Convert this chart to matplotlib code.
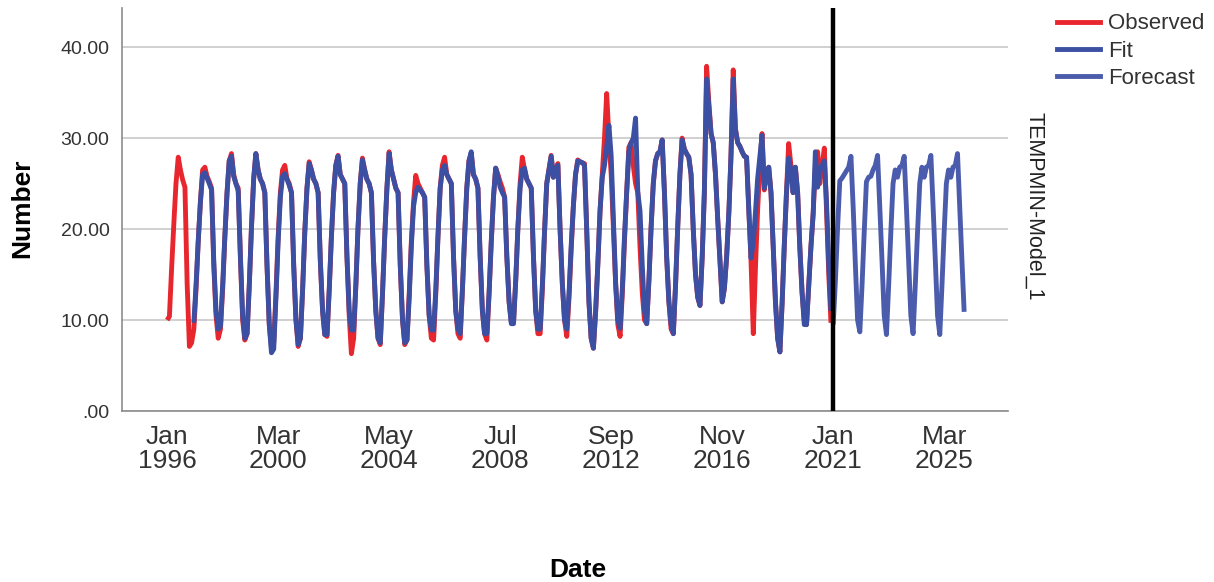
import numpy as np
import pandas as pd
import matplotlib
matplotlib.use("Agg")
import matplotlib.pyplot as plt
from matplotlib.lines import Line2D

plt.rcParams['font.family'] = ['Liberation Sans', 'DejaVu Sans']

# Monthly TEMPMIN values, one row per year (Jan..Dec)
observed = [
    10.0, 10.4, 15.5, 20.5, 25.0, 27.9, 26.5, 25.4, 24.6, 14.0, 7.1, 7.5,    # 1996
    9.0, 13.5, 18.5, 23.0, 26.5, 26.8, 25.8, 25.2, 24.5, 16.0, 10.5, 8.0,    # 1997
    9.0, 13.5, 19.0, 24.0, 27.5, 28.3, 26.0, 25.0, 24.5, 17.0, 10.0, 7.8,    # 1998
    8.5, 14.0, 20.0, 25.5, 28.3, 26.5, 25.5, 25.0, 24.0, 16.0, 9.5, 7.0,     # 1999
    7.5, 13.0, 19.0, 24.0, 26.5, 27.0, 25.5, 25.0, 24.0, 16.0, 10.0, 7.1,    # 2000
    8.0, 13.5, 19.5, 24.5, 27.4, 26.5, 25.5, 25.0, 24.0, 16.5, 11.0, 8.4,    # 2001
    8.2, 13.5, 19.0, 24.0, 27.0, 28.1, 26.0, 25.5, 25.0, 17.0, 10.5, 6.3,    # 2002
    8.0, 14.0, 20.0, 25.0, 27.8, 26.5, 25.5, 25.0, 24.0, 16.5, 11.0, 8.0,    # 2003
    7.3, 13.0, 19.0, 24.5, 28.5, 26.5, 25.5, 24.5, 24.0, 16.0, 10.0, 7.3,    # 2004
    7.8, 13.0, 18.5, 23.0, 25.9, 25.0, 24.5, 24.0, 23.5, 16.0, 10.5, 8.0,    # 2005
    7.8, 13.0, 19.0, 24.5, 27.0, 27.9, 26.0, 25.5, 25.0, 17.0, 11.0, 8.5,    # 2006
    8.0, 13.5, 19.0, 24.5, 27.5, 28.3, 26.0, 25.5, 24.5, 17.0, 11.0, 8.5,    # 2007
    7.8, 13.0, 18.5, 23.5, 26.7, 26.0, 25.2, 24.5, 23.5, 17.0, 12.0, 9.8,    # 2008
    9.8, 14.5, 20.0, 25.0, 27.9, 26.5, 25.5, 25.0, 24.5, 17.0, 11.0, 8.5,    # 2009
    8.5, 13.5, 19.5, 25.0, 26.5, 28.1, 25.7, 26.5, 27.2, 20.0, 14.0, 10.0,   # 2010
    8.2, 12.5, 17.5, 22.5, 26.0, 27.6, 27.4, 27.3, 27.2, 20.0, 12.0, 8.0,    # 2011
    6.9, 11.0, 16.0, 22.0, 26.0, 30.0, 34.9, 30.0, 26.0, 20.0, 14.0, 9.5,    # 2012
    8.2, 13.0, 18.5, 24.0, 29.0, 29.5, 27.0, 25.0, 24.0, 18.0, 13.0, 10.0,   # 2013
    9.6, 14.5, 20.0, 25.0, 27.5, 28.3, 28.5, 29.8, 24.0, 17.0, 12.0, 9.0,    # 2014
    8.5, 14.0, 20.0, 26.0, 30.0, 28.8, 28.3, 27.9, 26.0, 20.0, 15.0, 12.5,   # 2015
    11.6, 17.0, 24.0, 37.9, 34.0, 30.5, 29.5, 26.0, 21.0, 16.5, 12.0, 13.5,  # 2016
    17.0, 22.0, 28.0, 37.5, 31.0, 29.5, 29.1, 28.5, 28.0, 27.9, 22.0, 16.5,  # 2017
    8.5, 16.0, 22.0, 27.0, 30.5, 24.3, 26.0, 26.8, 24.0, 18.0, 12.0, 8.0,    # 2018
    6.5, 12.0, 18.0, 24.0, 29.4, 27.0, 24.0, 26.8, 24.0, 18.0, 13.0, 10.0,   # 2019
    9.5, 14.0, 18.0, 21.7, 27.0, 28.5, 25.0, 27.0, 28.9, 22.0, 15.0, 9.7,    # 2020
]

# Model fit starts one seasonal cycle after the first observation
fit = [
    9.7, 14.0, 18.5, 23.0, 26.0, 26.2, 25.6, 25.0, 24.3, 16.5, 11.0, 9.0,    # 1997
    9.3, 14.0, 19.0, 24.0, 27.5, 28.0, 25.8, 25.0, 24.2, 17.0, 10.5, 8.0,    # 1998
    8.5, 14.0, 20.0, 25.5, 28.3, 26.5, 25.5, 25.0, 24.0, 16.0, 9.5, 6.4,     # 1999
    6.8, 12.5, 18.5, 23.5, 25.8, 26.1, 25.5, 24.8, 24.0, 16.0, 10.0, 7.3,    # 2000
    8.0, 13.5, 19.5, 24.5, 27.2, 26.5, 25.5, 25.0, 24.0, 16.5, 11.0, 8.4,    # 2001
    8.4, 13.5, 19.0, 24.0, 27.0, 28.0, 26.0, 25.5, 25.0, 17.0, 11.0, 8.9,    # 2002
    8.9, 14.0, 20.0, 25.0, 27.6, 26.5, 25.5, 25.0, 24.0, 16.5, 11.0, 8.0,    # 2003
    7.5, 13.0, 19.0, 24.5, 28.3, 26.5, 25.5, 24.5, 24.0, 16.0, 10.0, 7.5,    # 2004
    7.8, 12.5, 18.0, 22.5, 24.0, 24.6, 24.3, 24.0, 23.5, 16.0, 10.5, 8.9,    # 2005
    8.9, 13.5, 19.0, 24.5, 26.5, 27.0, 26.0, 25.5, 25.0, 17.0, 11.0, 9.0,    # 2006
    8.5, 13.5, 19.0, 24.5, 27.5, 28.5, 26.0, 25.5, 24.5, 17.0, 11.0, 8.5,    # 2007
    8.5, 13.0, 18.5, 23.5, 26.7, 25.8, 24.6, 24.0, 23.5, 17.0, 12.0, 9.6,    # 2008
    9.6, 14.5, 20.0, 24.5, 26.5, 26.7, 25.5, 25.0, 24.5, 17.0, 11.0, 9.0,    # 2009
    9.0, 14.0, 19.5, 25.0, 26.5, 28.0, 25.7, 26.5, 27.0, 20.0, 14.0, 10.0,   # 2010
    9.0, 13.0, 18.0, 22.5, 26.0, 27.5, 27.4, 27.3, 27.0, 20.0, 12.0, 8.0,    # 2011
    6.9, 11.0, 16.0, 22.0, 25.7, 27.0, 29.0, 31.4, 28.0, 21.0, 14.0, 10.0,   # 2012
    9.1, 13.5, 19.0, 24.0, 28.5, 29.5, 30.0, 32.2, 24.0, 22.0, 16.0, 11.0,   # 2013
    9.6, 14.5, 20.0, 25.0, 27.5, 28.3, 28.5, 29.8, 24.0, 17.0, 12.0, 9.5,    # 2014
    8.5, 14.0, 20.0, 26.0, 29.8, 28.8, 28.3, 27.9, 26.0, 20.0, 15.0, 12.5,   # 2015
    11.6, 17.0, 24.0, 36.5, 33.5, 30.5, 29.5, 26.0, 21.0, 16.5, 12.0, 13.5,  # 2016
    17.0, 22.0, 28.0, 36.5, 31.0, 29.5, 29.1, 28.5, 28.0, 27.9, 22.0, 16.8,  # 2017
    18.5, 22.0, 25.5, 28.0, 30.3, 24.5, 26.0, 26.8, 24.0, 18.0, 12.0, 8.0,   # 2018
    6.5, 12.0, 18.0, 24.0, 27.8, 26.5, 24.0, 26.8, 24.0, 18.0, 13.0, 9.5,    # 2019
    9.5, 14.0, 18.0, 21.7, 28.5, 24.6, 26.5, 27.0, 27.5, 23.0, 16.0, 11.0,   # 2020
]

forecast = [
    9.5, 14.5, 20.0, 25.3, 25.6, 26.0, 26.4, 26.8, 28.0, 22.5, 16.0, 10.0,   # 2021
    8.7, 14.0, 19.5, 25.2, 25.7, 25.8, 26.5, 27.0, 28.1, 22.5, 16.5, 10.5,   # 2022
    8.4, 14.0, 19.5, 25.0, 26.5, 25.7, 26.8, 27.0, 28.0, 22.5, 16.5, 10.5,   # 2023
    8.5, 14.0, 19.5, 25.0, 26.8, 25.7, 26.8, 27.0, 28.1, 22.5, 16.5, 10.5,   # 2024
    8.4, 14.0, 19.5, 25.0, 26.5, 25.7, 26.8, 27.0, 28.3, 22.5, 16.5, 10.9,   # 2025
]

tick_dates = ['1996-01', '2000-03', '2004-05', '2008-07', '2012-09', '2016-11', '2021-01', '2025-03']
y_ticks = [0, 10, 20, 30, 40]
y_labels = ['.00', '10.00', '20.00', '30.00', '40.00']
forecast_start = '2021-01'

obs_dates = pd.date_range('1996-01-01', periods=len(observed), freq='MS')
fit_dates = pd.date_range('1997-01-01', periods=len(fit), freq='MS')
fc_dates = pd.date_range('2021-01-01', periods=len(forecast), freq='MS')

fig = plt.figure(figsize=(12.14, 5.82), dpi=100)
ax = fig.add_axes([0.1005, 0.2938, 0.7298, 0.6924])

red = '#e8262d'
blue_fit = '#3b4fa3'
blue_fc = '#4a5cab'
lw = 3.5

line_kw = dict(lw=lw, solid_joinstyle='round', solid_capstyle='butt')
ax.plot(obs_dates, observed, color=red, zorder=3, **line_kw)
ax.plot(fit_dates, fit, color=blue_fit, zorder=4, **line_kw)
ax.plot(fc_dates, forecast, color=blue_fc, zorder=4, **line_kw)
ax.axvline(pd.Timestamp(forecast_start), color='black', lw=3.2, zorder=5)

ax.set_ylim(0, 44.3)
ax.set_xlim(pd.Timestamp('1994-04-22'), pd.Timestamp('2027-07-25'))

ax.set_yticks(y_ticks)
ax.set_yticklabels(y_labels)
ax.set_xticks([pd.Timestamp(d) for d in tick_dates])
ax.set_xticklabels([pd.Timestamp(d).strftime('%b\n%Y') for d in tick_dates],
                   linespacing=1.0)
ax.tick_params(axis='y', length=0, pad=9, labelsize=14, labelcolor='#333333')
ax.tick_params(axis='x', length=0, pad=10, labelsize=19, labelcolor='#333333')

ax.grid(axis='y', color='#c4c4c4', lw=1.1)
ax.set_axisbelow(True)
for side in ['top', 'right']:
    ax.spines[side].set_visible(False)
for side in ['left', 'bottom']:
    ax.spines[side].set_color('#8c8c8c')
    ax.spines[side].set_linewidth(1.2)

fig.text(0.018, 0.643, 'Number', rotation=90, ha='center', va='center',
         fontsize=19, fontweight='bold', color='black')
fig.text(0.476, 0.021, 'Date', ha='center', va='center',
         fontsize=19, fontweight='bold', color='black')
fig.text(0.852, 0.646, 'TEMPMIN-Model_1', rotation=270, ha='center', va='center',
         fontsize=15.5, color='#222222')

handles = [Line2D([], [], color=red, lw=lw),
           Line2D([], [], color=blue_fit, lw=lw),
           Line2D([], [], color=blue_fc, lw=lw)]
fig.legend(handles, ['Observed', 'Fit', 'Forecast'], loc='upper left',
           bbox_to_anchor=(0.8707, 0.977), frameon=False, fontsize=16,
           handlelength=1.95, handletextpad=0.35, labelspacing=0.29,
           borderpad=0, borderaxespad=0, labelcolor='#333333')

fig.savefig('out.png', dpi=100)
